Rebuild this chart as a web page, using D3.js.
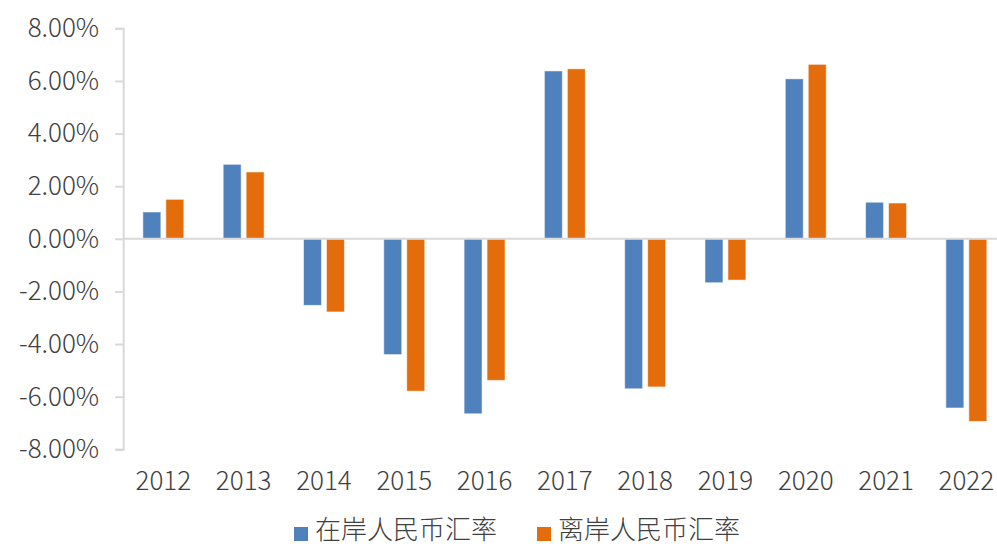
<!DOCTYPE html>
<html>
<head>
<meta charset="utf-8">
<script src="https://cdn.jsdelivr.net/npm/d3@7"></script>
<style>
  html, body { margin: 0; padding: 0; background: #fff; }
  svg { display: block; }
  text { font-family: "Noto Sans CJK SC", "Noto Sans", sans-serif; font-weight: 300; fill: #404040; }
</style>
</head>
<body>
<svg id="chart" width="997" height="546"></svg>
<script>
const categories = ["2012","2013","2014","2015","2016","2017","2018","2019","2020","2021","2022"];
const seriesNames = ["在岸人民币汇率","离岸人民币汇率"];
const onshore  = [1.02, 2.83, -2.53, -4.40, -6.65, 6.38, -5.70, -1.67, 6.08, 1.39, -6.43];
const offshore = [1.50, 2.54, -2.78, -5.79, -5.38, 6.46, -5.63, -1.57, 6.63, 1.36, -6.94];
const yTicks = [8, 6, 4, 2, 0, -2, -4, -6, -8];
const colors = ["#4F81BD", "#E46C0A"];

const svg = d3.select("#chart");
const plotLeft = 123.2, plotRight = 1006.5, plotTop = 28.3, plotBottom = 449.3;

const y = d3.scaleLinear().domain([-8, 8]).range([plotBottom, plotTop]);
const x0 = d3.scaleBand().domain(categories).range([plotLeft, plotRight]).paddingInner(0.49).paddingOuter(0.245);
const x1 = d3.scaleBand().domain(seriesNames).range([0, x0.bandwidth()]).paddingInner(0.217).paddingOuter(0);

const data = categories.map((c, i) => ({ cat: c, vals: [onshore[i], offshore[i]] }));

// bars
const g = svg.append("g");
data.forEach(d => {
  d.vals.forEach((v, j) => {
    g.append("rect")
      .attr("x", x0(d.cat) + x1(seriesNames[j]))
      .attr("width", x1.bandwidth())
      .attr("y", v >= 0 ? y(v) : y(0))
      .attr("height", Math.abs(y(v) - y(0)))
      .attr("fill", colors[j])
      .attr("stroke", "#ffffff")
      .attr("stroke-opacity", 0.55)
      .attr("stroke-width", 1);
  });
});

// zero line
svg.append("line")
  .attr("x1", plotLeft).attr("x2", 997)
  .attr("y1", y(0)).attr("y2", y(0))
  .attr("stroke", "#d9d9d9").attr("stroke-width", 2);

// y axis
const yAxis = d3.axisLeft(y).tickValues(yTicks).tickSize(8).tickPadding(16)
  .tickFormat(d => (d < 0 ? "-" : "") + Math.abs(d).toFixed(2) + "%");
const ya = svg.append("g").attr("transform", `translate(${plotLeft},0)`).call(yAxis);
ya.select(".domain").attr("stroke", "#d9d9d9").attr("stroke-width", 2);
ya.selectAll(".tick line").attr("stroke", "#d9d9d9").attr("stroke-width", 2);
ya.selectAll(".tick text").style("font-size", "26px").attr("fill", "#404040");

// x axis labels
const xAxis = d3.axisBottom(x0).tickSize(0).tickPadding(0);
const xa = svg.append("g").attr("transform", `translate(0,${plotBottom})`).call(xAxis);
xa.select(".domain").remove();
xa.selectAll(".tick text").style("font-size", "26px").attr("dy", null).attr("y", 41).attr("fill", "#404040");

// legend
const legendItems = [{ name: seriesNames[0], color: colors[0], x: 294 }, { name: seriesNames[1], color: colors[1], x: 537 }];
const lg = svg.append("g");
legendItems.forEach(it => {
  lg.append("rect").attr("x", it.x).attr("y", 527).attr("width", 14).attr("height", 14).attr("fill", it.color);
  lg.append("text").attr("x", it.x + 21).attr("y", 539).text(it.name).style("font-size", "26px").attr("fill", "#1a1a1a");
});
</script>
</body>
</html>
